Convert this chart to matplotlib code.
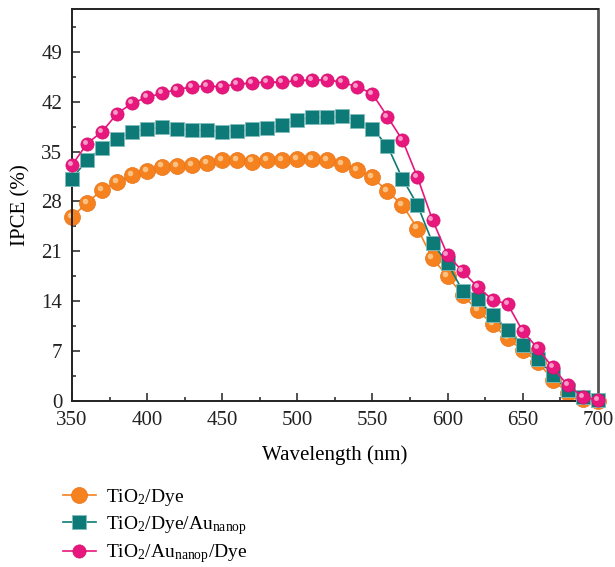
import matplotlib.pyplot as plt
import matplotlib.transforms as mtransforms
from matplotlib.ticker import MultipleLocator

plt.rcParams['font.family'] = ['Liberation Serif', 'DejaVu Serif']
plt.rcParams['mathtext.fontset'] = 'custom'
plt.rcParams['mathtext.rm'] = 'Liberation Serif'
plt.rcParams['mathtext.it'] = 'Liberation Serif:italic'

wavelength = list(range(350, 701, 10))

tio2_dye = [25.8, 27.8, 29.6, 30.7, 31.7, 32.3, 32.9, 33.0, 33.1, 33.4,
            33.8, 33.8, 33.6, 33.8, 33.8, 33.9, 33.9, 33.8, 33.3, 32.4,
            31.4, 29.4, 27.5, 24.2, 20.0, 17.5, 14.9, 12.7, 10.8, 8.8,
            7.1, 5.5, 3.0, 1.1, 0.3, 0.0]

tio2_dye_au = [31.2, 33.8, 35.5, 36.7, 37.8, 38.2, 38.4, 38.2, 38.0, 38.0,
               37.8, 37.9, 38.2, 38.3, 38.7, 39.5, 39.8, 39.8, 40.0, 39.3,
               38.2, 35.8, 31.2, 27.5, 22.2, 19.3, 15.5, 14.3, 12.1, 9.9,
               7.9, 5.9, 3.7, 1.5, 0.5, 0.1]

tio2_au_dye = [33.1, 36.1, 37.8, 40.3, 41.8, 42.6, 43.2, 43.7, 44.1, 44.2,
               44.1, 44.5, 44.6, 44.8, 44.7, 45.0, 45.0, 45.1, 44.7, 44.1,
               43.1, 39.9, 36.6, 31.4, 25.4, 20.5, 18.2, 16.0, 14.2, 13.6,
               9.8, 7.4, 4.7, 2.2, 0.6, 0.1]

labels = [r'TiO$_2$/Dye', r'TiO$_2$/Dye/Au$_{\mathrm{nanop}}$', r'TiO$_2$/Au$_{\mathrm{nanop}}$/Dye']

fig = plt.figure(figsize=(6.15, 5.67), dpi=100)
ax = fig.add_axes([0.117, 0.2928, 0.855, 0.6912])

hl = mtransforms.offset_copy(ax.transData, fig=fig, x=-1.5, y=1.5, units='points')

# TiO2/Dye - orange spheres
ax.plot(wavelength, tio2_dye, '-o', color='#F5821F', lw=1.2, ms=11.5,
        mec='#E8731A', mew=0.5, zorder=2, label=labels[0], clip_on=False)
ax.plot(wavelength, tio2_dye, 'o', color='#FBC98F', ms=4, mew=0, alpha=0.9,
        transform=hl, zorder=2.1, clip_on=False)

# TiO2/Dye/Au - teal squares
ax.plot(wavelength, tio2_dye_au, '-s', color='#0E7A78', lw=1.2, ms=9.5,
        mec='#7FBDBB', mew=0.6, zorder=3, label=labels[1], clip_on=False)

# TiO2/Au/Dye - pink spheres
ax.plot(wavelength, tio2_au_dye, '-o', color='#E8177D', lw=1.2, ms=9.5,
        mec='#D0106C', mew=0.5, zorder=4, label=labels[2], clip_on=False)
ax.plot(wavelength, tio2_au_dye, 'o', color='#F7A9CF', ms=3.5, mew=0, alpha=0.9,
        transform=hl, zorder=4.1, clip_on=False)

ax.set_xlim(350, 700)
ax.set_ylim(0, 55)
ax.xaxis.set_major_locator(MultipleLocator(50))
ax.xaxis.set_minor_locator(MultipleLocator(25))
ax.yaxis.set_major_locator(MultipleLocator(7))
ax.yaxis.set_minor_locator(MultipleLocator(3.5))
ax.tick_params(which='both', direction='in', labelsize=15, width=1.1, colors='#222222')
ax.tick_params(which='major', length=6)
ax.tick_params(which='minor', length=3)
ax.tick_params(axis='y', pad=7)
ax.tick_params(axis='x', pad=7)
for s in ax.spines.values():
    s.set_linewidth(1.4)
    s.set_color('#222222')
ax.spines['right'].set_color('#555555')
ax.spines['right'].set_linewidth(2)

ax.set_xlabel('Wavelength (nm)', fontsize=15, labelpad=11)
ax.set_ylabel('IPCE (%)', fontsize=15, labelpad=8)

fig.legend(loc='center left', bbox_to_anchor=(0.102, 0.072), frameon=False,
           fontsize=14, borderpad=0, borderaxespad=0, handlelength=1.7,
           handletextpad=0.5, labelspacing=0.3, numpoints=1)

fig.savefig('out.png', dpi=100)
